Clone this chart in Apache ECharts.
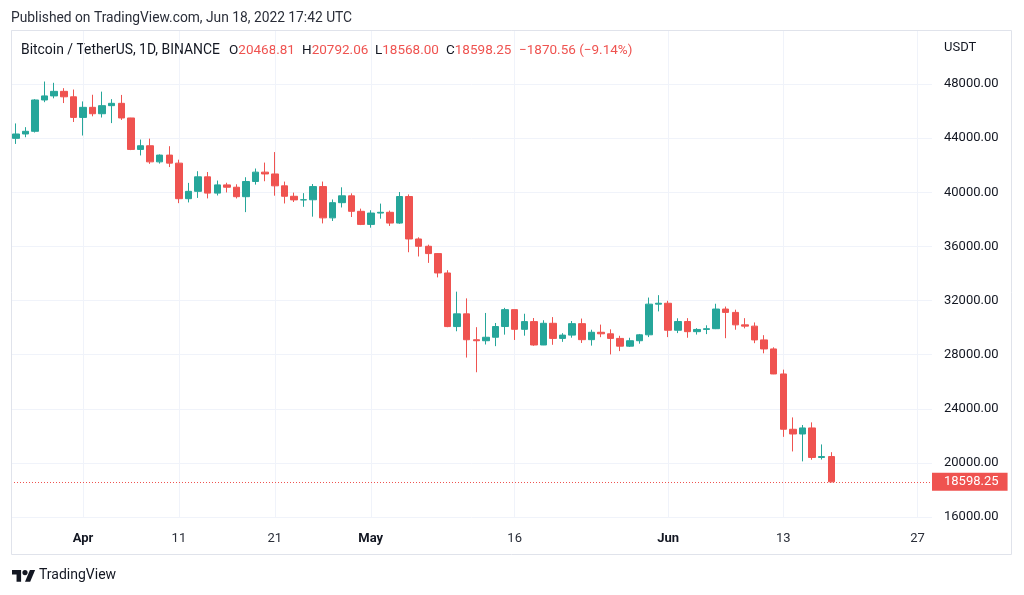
<!DOCTYPE html>
<html>
<head>
<meta charset="utf-8">
<script src="https://cdn.jsdelivr.net/npm/echarts@6/dist/echarts.min.js"></script>
<style>
html,body{margin:0;padding:0;background:#fff;}
#c{width:1024px;height:595px;}
</style>
</head>
<body>
<div id="c"></div>
<script>
// Categories: one per trading day (plus empty days to the right edge of the chart)
const dates = [
'2022-03-25','2022-03-26','2022-03-27','2022-03-28','2022-03-29','2022-03-30','2022-03-31',
'2022-04-01','2022-04-02','2022-04-03','2022-04-04','2022-04-05','2022-04-06','2022-04-07','2022-04-08','2022-04-09','2022-04-10',
'2022-04-11','2022-04-12','2022-04-13','2022-04-14','2022-04-15','2022-04-16','2022-04-17','2022-04-18','2022-04-19','2022-04-20',
'2022-04-21','2022-04-22','2022-04-23','2022-04-24','2022-04-25','2022-04-26','2022-04-27','2022-04-28','2022-04-29','2022-04-30',
'2022-05-01','2022-05-02','2022-05-03','2022-05-04','2022-05-05','2022-05-06','2022-05-07','2022-05-08','2022-05-09','2022-05-10',
'2022-05-11','2022-05-12','2022-05-13','2022-05-14','2022-05-15','2022-05-16','2022-05-17','2022-05-18','2022-05-19','2022-05-20',
'2022-05-21','2022-05-22','2022-05-23','2022-05-24','2022-05-25','2022-05-26','2022-05-27','2022-05-28','2022-05-29','2022-05-30','2022-05-31',
'2022-06-01','2022-06-02','2022-06-03','2022-06-04','2022-06-05','2022-06-06','2022-06-07','2022-06-08','2022-06-09','2022-06-10',
'2022-06-11','2022-06-12','2022-06-13','2022-06-14','2022-06-15','2022-06-16','2022-06-17','2022-06-18','2022-06-19','2022-06-20',
'2022-06-21','2022-06-22','2022-06-23','2022-06-24','2022-06-25','2022-06-26','2022-06-27','2022-06-28'
];

const opens = [
43991,44313,44511,46827,47128,47465,47062,
45538,46283,45811,46407,46580,45497,43170,43444,42252,42753,
42158,39530,40074,41147,39942,40551,40378,39678,40801,41493,
41358,40480,39709,39441,39450,40426,38112,39235,39742,38596,
37630,38468,38525,37728,39690,36552,36013,35472,34039,30077,
31017,29103,29030,29287,30080,31329,29874,30444,28715,30319,
29201,29445,30293,29109,29655,29542,29201,28629,29031,29468,31734,
31801,29805,30452,29700,29864,29920,31373,31125,30204,30109,
29091,28424,26574,22485,22136,22583,20401,20468.81
];
const closes = [
44313,44511,46827,47128,47465,47062,45538,
46283,45811,46407,46580,45497,43170,43444,42252,42753,42158,
39530,40074,41147,39942,40551,40378,39678,40801,41493,41358,
40480,39709,39441,39450,40426,38112,39235,39742,38596,37630,
38468,38525,37728,39690,36552,36013,35472,34039,30077,31017,
29103,29030,29287,30080,31329,29874,30444,28715,30319,29201,
29445,30293,29109,29655,29542,29201,28629,29031,29468,31734,31801,
29805,30452,29700,29864,29920,31373,31125,30204,30109,29091,
28424,26574,22487,22136,22583,20401,20468.81,18598.25
];
const lows = [
43579,44072,44421,46663,46950,46600,45200,
44200,45620,45530,45118,45353,43121,42727,42107,42125,41868,
39200,39254,39588,39551,39766,39991,39546,38536,40571,40820,
39751,39177,39285,38929,38200,37702,37881,38881,38175,37578,
37386,38052,37517,37670,35571,35258,34785,33713,30033,29731,
27785,26700,28751,28630,29480,29087,29404,28654,28708,28730,
28947,29255,28866,28669,29294,28020,28262,28567,28812,29300,31200,
29299,29594,29251,29485,29520,29890,29218,29844,29944,28850,
28099,26560,21925,20846,20111,20232,20246,18568
];
const highs = [
45094,44817,46890,48190,48097,47700,47600,
46720,47213,47444,46890,47200,45507,43900,43970,42800,43410,
42414,40699,41561,41500,40870,40709,40595,41116,41760,42199,
42976,40795,39980,39940,40616,40797,39474,40372,39925,38795,
38675,39167,38651,40023,39845,36675,36130,35510,34243,32659,
32162,30032,31083,30343,31460,31329,31025,30709,30545,30777,
29588,30487,30670,29845,30223,29872,29397,29250,29531,32222,32399,
31982,30690,30700,29958,30170,31765,31557,31327,30700,30382,
29440,28544,26895,23362,22800,22995,21365,20792.06
];

// Time-axis tick labels
const xTickDates  = ['2022-04-01','2022-04-11','2022-04-21','2022-05-01','2022-05-16','2022-06-01','2022-06-13','2022-06-27'];
const xTickLabels = ['Apr','11','21','May','16','Jun','13','27'];
const monthLabels = ['Apr','May','Jun'];

// Price axis
const yMin = 16000, yMax = 52000, yStep = 4000;

// Header texts
const publishedText = 'Published on TradingView.com, Jun 18, 2022 17:42 UTC';
const symbolText = 'Bitcoin / TetherUS, 1D, BINANCE';
const ohlcKeys = ['O','H','L','C'];
const ohlcVals = ['20468.81','20792.06','18568.00','18598.25'];
const changeText = '\u22121870.56 (\u22129.14%)';
const currencyText = 'USDT';

const UP = '#26a69a', DOWN = '#ef5350', TXT = '#131722';
const FONT = 'Roboto, "Noto Sans", sans-serif';

const candleData = dates.map((d, i) => i < opens.length ? [opens[i], closes[i], lows[i], highs[i]] : '-');
const lastClose = closes[closes.length - 1];
const isTick = (idx, val) => xTickDates.indexOf(val) >= 0;

const chart = echarts.init(document.getElementById('c'), null, {renderer: 'canvas'});

const headerGraphics = [];
headerGraphics.push({type:'text', left: 11, top: 12, style:{text: publishedText, font: '13.8px ' + FONT, fill: '#2a2e39'}});
headerGraphics.push({type:'text', left: 21, top: 44, style:{text: symbolText, font: '13.9px ' + FONT, fill: TXT}});
const keyX = [229, 302, 375, 446];
ohlcKeys.forEach((k, i) => {
  headerGraphics.push({type:'text', left: keyX[i], top: 44, style:{
    rich: {k:{fill: TXT, font:'13.5px ' + FONT}, v:{fill: DOWN, font:'13.5px ' + FONT}},
    text: '{k|' + k + '}{v|' + ohlcVals[i] + '}'
  }});
});
headerGraphics.push({type:'text', left: 519, top: 44, style:{text: changeText, font:'13.5px ' + FONT, fill: DOWN}});
headerGraphics.push({type:'text', left: 944, top: 41, style:{text: currencyText, font:'13px ' + FONT, fill: TXT}});

// outer frame
headerGraphics.push({type:'rect', silent:true, z: 100, shape:{x: 11.5, y: 30.5, width: 1000, height: 524},
  style:{fill: 'none', stroke: '#e0e3eb', lineWidth: 1}});

// footer logo
headerGraphics.push({type:'group', left: 12, top: 570, children: [
  {type:'polygon', shape:{points:[[0,0],[9.1,0],[9.1,11.7],[4.55,11.7],[4.55,4.55],[0,4.55]]}, style:{fill: TXT}},
  {type:'circle', shape:{cx: 13, cy: 2.6, r: 2.6}, style:{fill: TXT}},
  {type:'polygon', shape:{points:[[13,11.7],[17.9,0],[23.1,0],[18.2,11.7]]}, style:{fill: TXT}}
]});
headerGraphics.push({type:'text', left: 39, top: 568, style:{text:'TradingView', font:'14px ' + FONT, fill: TXT}});

chart.setOption({
  animation: false,
  backgroundColor: '#ffffff',
  textStyle: {fontFamily: FONT},
  grid: {left: 11, top: 30, width: 921, height: 487, containLabel: false},
  xAxis: {
    type: 'category',
    data: dates,
    boundaryGap: true,
    axisLine: {show: false},
    axisTick: {show: false},
    axisLabel: {
      interval: isTick,
      margin: 15,
      fontSize: 13,
      color: TXT,
      formatter: function (val) {
        const j = xTickDates.indexOf(val);
        if (j < 0) return '';
        const t = xTickLabels[j];
        return monthLabels.indexOf(t) >= 0 ? '{m|' + t + '}' : '{d|' + t + '}';
      },
      rich: {
        m: {fontSize: 13, fontWeight: 'bold', color: TXT, fontFamily: FONT},
        d: {fontSize: 13, color: '#2a2e39', fontFamily: FONT}
      }
    },
    splitLine: {show: true, interval: isTick, alignWithLabel: true, lineStyle: {color: '#f0f3fa', width: 1}}
  },
  yAxis: {
    type: 'value',
    position: 'right',
    min: yMin, max: yMax, interval: yStep,
    axisLine: {show: false},
    axisTick: {show: false},
    axisLabel: {
      margin: 12, fontSize: 13, color: TXT, align: 'left',
      formatter: v => (v === yMax ? '' : v.toFixed(2))
    },
    splitLine: {show: true, lineStyle: {color: '#f0f3fa', width: 1}}
  },
  series: [{
    type: 'candlestick',
    data: candleData,
    barWidth: 7,
    itemStyle: {color: UP, color0: DOWN, borderColor: UP, borderColor0: DOWN, borderWidth: 1},
    markLine: {
      silent: true,
      symbol: ['none', 'none'],
      data: [{yAxis: lastClose}],
      lineStyle: {color: DOWN, type: [1, 2], width: 1},
      label: {
        position: 'end', distance: 0,
        formatter: lastClose.toFixed(2),
        color: '#ffffff', backgroundColor: DOWN,
        fontSize: 13, padding: [3, 9, 2, 12], fontFamily: FONT
      }
    }
  }],
  graphic: headerGraphics
});
</script>
</body>
</html>
